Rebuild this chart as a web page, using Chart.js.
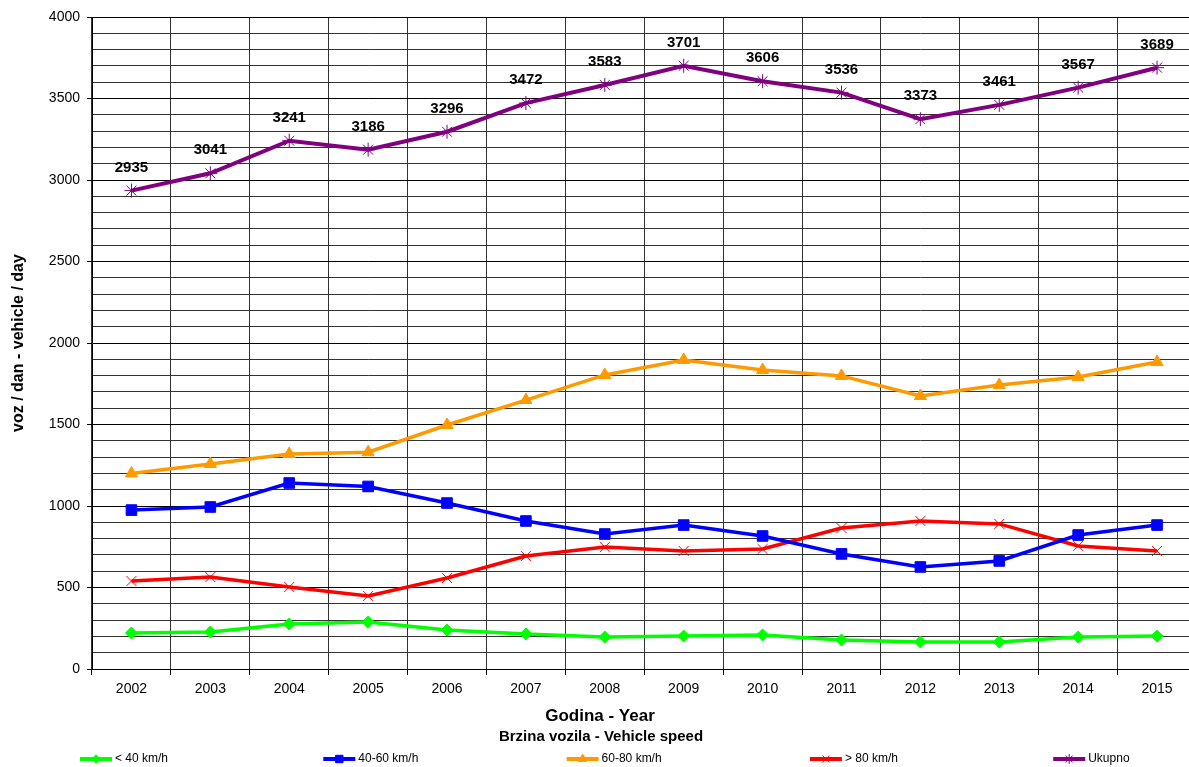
<!DOCTYPE html>
<html>
<head>
<meta charset="utf-8">
<script src="https://cdn.jsdelivr.net/npm/chart.js@4.4.1/dist/chart.umd.min.js"></script>
<style>
    html, body { margin: 0; padding: 0; background: #fff; overflow: hidden; }
    #wrap { width: 1205px; height: 767px; }
</style>
</head>
<body>
<div id="wrap"><canvas id="speedChart" width="1205" height="767"></canvas></div>
<script>
const years = ["2002", "2003", "2004", "2005", "2006", "2007", "2008", "2009", "2010", "2011", "2012", "2013", "2014", "2015"];
const seriesNames = ["< 40 km/h", "40-60 km/h", "60-80 km/h", "> 80 km/h", "Ukupno"];
const under40 = [221, 227, 276, 288, 239, 215, 196, 202, 209, 178, 166, 166, 196, 202];
const from40to60 = [975, 994, 1141, 1120, 1018, 908, 828, 883, 816, 706, 626, 663, 822, 883];
const from60to80 = [1200, 1258, 1319, 1330, 1497, 1650, 1804, 1896, 1834, 1798, 1675, 1742, 1791, 1883];
const over80 = [540, 564, 503, 448, 558, 693, 748, 724, 736, 865, 908, 890, 755, 724];
const total = [2935, 3041, 3241, 3186, 3296, 3472, 3583, 3701, 3606, 3536, 3373, 3461, 3567, 3689];
const yTicksMajor = [0, 500, 1000, 1500, 2000, 2500, 3000, 3500, 4000];

const xTitle = "Godina - Year";
const yTitle = "voz / dan - vehicle / day";
const legendTitle = "Brzina vozila - Vehicle speed";

const FONT = "'Liberation Sans', Arial, sans-serif";

function makeSet(label, data, color, style, radius, lineW) {
    return {
        label: label,
        data: data,
        borderColor: color,
        backgroundColor: color,
        borderWidth: lineW,
        tension: 0,
        pointStyle: style,
        pointRadius: radius,
        pointHoverRadius: radius,
        pointBorderWidth: 1,
        pointBackgroundColor: color,
        pointBorderColor: color
    };
}

// labels over the total line
const valueLabels = {
    id: "valueLabels",
    afterDatasetsDraw(chart) {
        const ctx = chart.ctx;
        const meta = chart.getDatasetMeta(4);
        ctx.save();
        ctx.font = "bold 15px " + FONT;
        ctx.fillStyle = "#000";
        ctx.textAlign = "center";
        ctx.textBaseline = "middle";
        meta.data.forEach((pt, i) => {
            ctx.fillText(String(total[i]), pt.x, pt.y - 23);
        });
        ctx.restore();
    }
};

// x title, legend title and a spread-out legend row
const bottomBlock = {
    id: "bottomBlock",
    afterDraw(chart) {
        const ctx = chart.ctx;
        ctx.save();
        ctx.fillStyle = "#000";
        ctx.textAlign = "center";
        ctx.textBaseline = "middle";
        ctx.font = "bold 17px " + FONT;
        ctx.fillText(xTitle, 600, 716);
        ctx.font = "bold 15px " + FONT;
        ctx.fillText(legendTitle, 601, 737);

        chart.data.datasets.forEach((ds, i) => {
            const x0 = 80 + i * 243.3;
            const y = 759;
            ctx.strokeStyle = ds.borderColor;
            ctx.fillStyle = ds.borderColor;
            ctx.lineWidth = 4;
            ctx.beginPath();
            ctx.moveTo(x0, y);
            ctx.lineTo(x0 + 32, y);
            ctx.stroke();
            ctx.lineWidth = ds.pointBorderWidth;
            Chart.helpers.drawPoint(ctx, {
                pointStyle: ds.pointStyle,
                radius: ds.pointRadius * 0.7,
                rotation: 0,
                borderWidth: ds.pointBorderWidth
            }, x0 + 16, y);
            ctx.fillStyle = "#000";
            ctx.textAlign = "left";
            ctx.font = "12px " + FONT;
            ctx.fillText(ds.label, x0 + 35, y);
        });
        ctx.restore();
    }
};

const ctx = document.getElementById("speedChart").getContext("2d");
new Chart(ctx, {
    type: "line",
    data: {
        labels: years,
        datasets: [
            makeSet(seriesNames[0], under40, "#00FF00", "rectRot", 6, 3.5),
            makeSet(seriesNames[1], from40to60, "#0000FF", "rect", 7.5, 3.5),
            makeSet(seriesNames[2], from60to80, "#FF9900", "triangle", 7, 3.5),
            makeSet(seriesNames[3], over80, "#FF0000", "crossRot", 7, 3.5),
            makeSet(seriesNames[4], total, "#800080", "star", 7, 4)
        ]
    },
    options: {
        responsive: false,
        animation: false,
        layout: { padding: { top: 17, right: 7, left: 0, bottom: 0 } },
        plugins: {
            legend: { display: false },
            tooltip: { enabled: false }
        },
        scales: {
            x: {
                offset: true,
                afterFit: s => { s.height = 98; },
                grid: {
                    offset: true,
                    color: "#333",
                    lineWidth: 1,
                    tickLength: 6,
                    tickColor: "#000"
                },
                border: { color: "#000", width: 1 },
                ticks: {
                    color: "#000",
                    padding: 6,
                    maxRotation: 0,
                    autoSkip: false,
                    font: { family: FONT, size: 14 }
                }
            },
            y: {
                min: 0,
                max: 4000,
                afterFit: s => { s.width = 92; },
                grid: {
                    color: c => yTicksMajor.includes(c.tick.value) ? "#000" : "#333",
                    lineWidth: 1,
                    tickLength: 5,
                    tickColor: c => yTicksMajor.includes(c.tick.value) ? "#000" : "rgba(0,0,0,0)"
                },
                border: { color: "#000", width: 1 },
                ticks: {
                    stepSize: 100,
                    autoSkip: false,
                    color: "#000",
                    padding: 7,
                    font: { family: FONT, size: 14 },
                    callback: v => yTicksMajor.includes(v) ? String(v) : ""
                },
                title: {
                    display: true,
                    text: yTitle,
                    color: "#000",
                    padding: { top: 9, bottom: 0 },
                    font: { family: FONT, size: 16, weight: "bold" }
                }
            }
        }
    },
    plugins: [valueLabels, bottomBlock]
});
</script>
</body>
</html>
